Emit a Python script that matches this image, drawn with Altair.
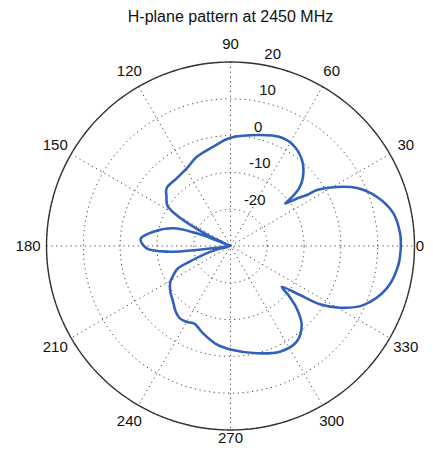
import altair as alt
import pandas as pd

title_text = "H-plane pattern at 2450 MHz"

# measured pattern (angle in degrees, gain in dB), traversal order
pattern_angle = [0, 4.4, 11.5, 18.5, 24.6, 29.0, 32.9, 33.7, 35.6, 37.8, 38.6, 40.2, 43.6,
                 50.3, 58.3, 65.6, 75.1, 90.0, 99.8, 110.7, 119.4, 128.5, 137.9, 142.3,
                 147.3, 150.5, 152.6, 155.0, 156.5, 158.0, 159.4, 162.8, 169.5, 175.5,
                 181.6, 185.4, 186.7, 188.0, 190.0, 194.0, 198.0, 201.0, 203.0, 207.0,
                 211.0, 217.0, 224.0, 230.0, 235.0, 240.0, 245.0, 252.7, 262.0, 270.0,
                 283.7, 295.1, 304.7, 312.0, 316.7, 319.7, 321.5, 324.8, 326.9, 330.6,
                 336.0, 344.8, 353.5, 360.0]
pattern_db = [16.3, 16.2, 15.1, 12.0, 7.8, 3.1, -2.0, -5.0, -7.8, -11.2, -8.5, -5.5, -2.8,
              0.4, 2.3, 2.5, 1.2, -0.6, -2.6, -4.1, -5.8, -6.5, -6.6, -8.0,
              -9.6, -13.5, -18.6, -23.9, -30.0, -25.5, -20.2, -13.7, -8.7, -5.5,
              -7.2, -13.5, -20.8, -27.0, -30.0, -26.5, -22.0, -18.0, -14.5, -12.6,
              -10.9, -9.5, -8.3, -6.8, -6.0, -6.2, -6.7, -5.1, -3.0, -1.9,
              0.0, 1.7, 1.6, -1.1, -5.3, -9.4, -12.2, -6.9, -1.0, 4.2,
              9.5, 14.0, 15.9, 16.3]

ring_db = [-20, -10, 0, 10, 20]
ring_labels = ["-20", "-10", "0", "10", "20"]
spoke_angles = [30, 60, 90, 120, 150, 180]
angle_labels = [0, 30, 60, 90, 120, 150, 180, 210, 240, 270, 300, 330]
r_min_db = -30
r_max_db = 20
label_angle = 82

rmax = r_max_db - r_min_db

# layout: canvas 417 x 437 px, polar centre at (222.5, 238) px, outer radius 184 px
W, H = 417, 437
CX, CY, R_PX = 222.5, 238.0, 184.0
k = R_PX / rmax
x_dom = [-CX / k, (W - CX) / k]
y_dom = [-(H - CY) / k, CY / k]
TITLE_BASELINE_PX = 13.5

pat = pd.DataFrame({"angle": pattern_angle, "db": pattern_db,
                    "order": list(range(len(pattern_angle)))})

ring_rows = []
for db in ring_db:
    for i, a in enumerate(range(0, 361, 2)):
        ring_rows.append({"ring": db, "angle": a, "db": db, "order": i})
rings = pd.DataFrame(ring_rows)
outer = rings[rings["ring"] == r_max_db]

spoke_rows = []
for s in spoke_angles:
    spoke_rows.append({"spoke": s, "angle": s, "db": r_max_db, "order": 0})
    spoke_rows.append({"spoke": s, "angle": s + 180, "db": r_max_db, "order": 1})
spokes = pd.DataFrame(spoke_rows)

rlab = pd.DataFrame({"label": ring_labels, "db": [d + 0.5 for d in ring_db],
                     "angle": [label_angle] * len(ring_db)})
alab = pd.DataFrame({"label": [str(a) for a in angle_labels], "angle": angle_labels,
                     "db": [r_min_db + 1.1 * rmax] * len(angle_labels)})
title_df = pd.DataFrame({"label": [title_text], "px": [0.0],
                         "py": [y_dom[1] - TITLE_BASELINE_PX / k]})

xs = alt.Scale(domain=x_dom, nice=False, zero=False)
ys = alt.Scale(domain=y_dom, nice=False, zero=False)


def polar(df):
    return alt.Chart(df).transform_calculate(
        r=f"max(datum.db - ({r_min_db}), 0)"
    ).transform_calculate(
        px="datum.r * cos(datum.angle * PI / 180)",
        py="datum.r * sin(datum.angle * PI / 180)",
    )


X = alt.X("px:Q", scale=xs, axis=None)
Y = alt.Y("py:Q", scale=ys, axis=None)

ring_layer = polar(rings).mark_line(
    color="#444444", strokeWidth=1, strokeDash=[1.2, 3.6]
).encode(x=X, y=Y, detail="ring:N", order="order:Q")

spoke_layer = polar(spokes).mark_line(
    color="#444444", strokeWidth=1, strokeDash=[1.2, 3.6]
).encode(x=X, y=Y, detail="spoke:N", order="order:Q")

outer_layer = polar(outer).mark_line(
    color="#333333", strokeWidth=1.4
).encode(x=X, y=Y, order="order:Q")

pattern_layer = polar(pat).mark_line(
    color="#3161BD", strokeWidth=2.6, strokeJoin="round", interpolate="catmull-rom"
).encode(x=X, y=Y, order="order:Q")

rlab_layer = polar(rlab).mark_text(
    align="left", baseline="bottom", dx=8, font="Liberation Sans", fontSize=15, color="#111111"
).encode(x=X, y=Y, text="label:N")

# keep the edge labels (0 and 270) just inside the canvas
alab_layer = polar(alab).transform_calculate(
    qx=f"min(datum.px, {x_dom[1]} - 5 / {k})",
    qy=f"max(datum.py, {y_dom[0]} + 7 / {k})",
).mark_text(
    align="center", baseline="middle", font="Liberation Sans", fontSize=15, color="#111111"
).encode(x=alt.X("qx:Q", scale=xs, axis=None), y=alt.Y("qy:Q", scale=ys, axis=None),
         text="label:N")

title_layer = alt.Chart(title_df).mark_text(
    align="center", baseline="alphabetic", font="Liberation Sans", fontSize=16, color="#111111"
).encode(x=X, y=Y, text="label:N")

chart = alt.layer(
    ring_layer, spoke_layer, outer_layer, pattern_layer, rlab_layer, alab_layer, title_layer
).properties(
    width=W,
    height=H,
    autosize=alt.AutoSizeParams(type="none"),
    padding=0,
).configure_view(strokeWidth=0)

chart.save("out.html", embed_options={"renderer": "svg", "actions": False})
